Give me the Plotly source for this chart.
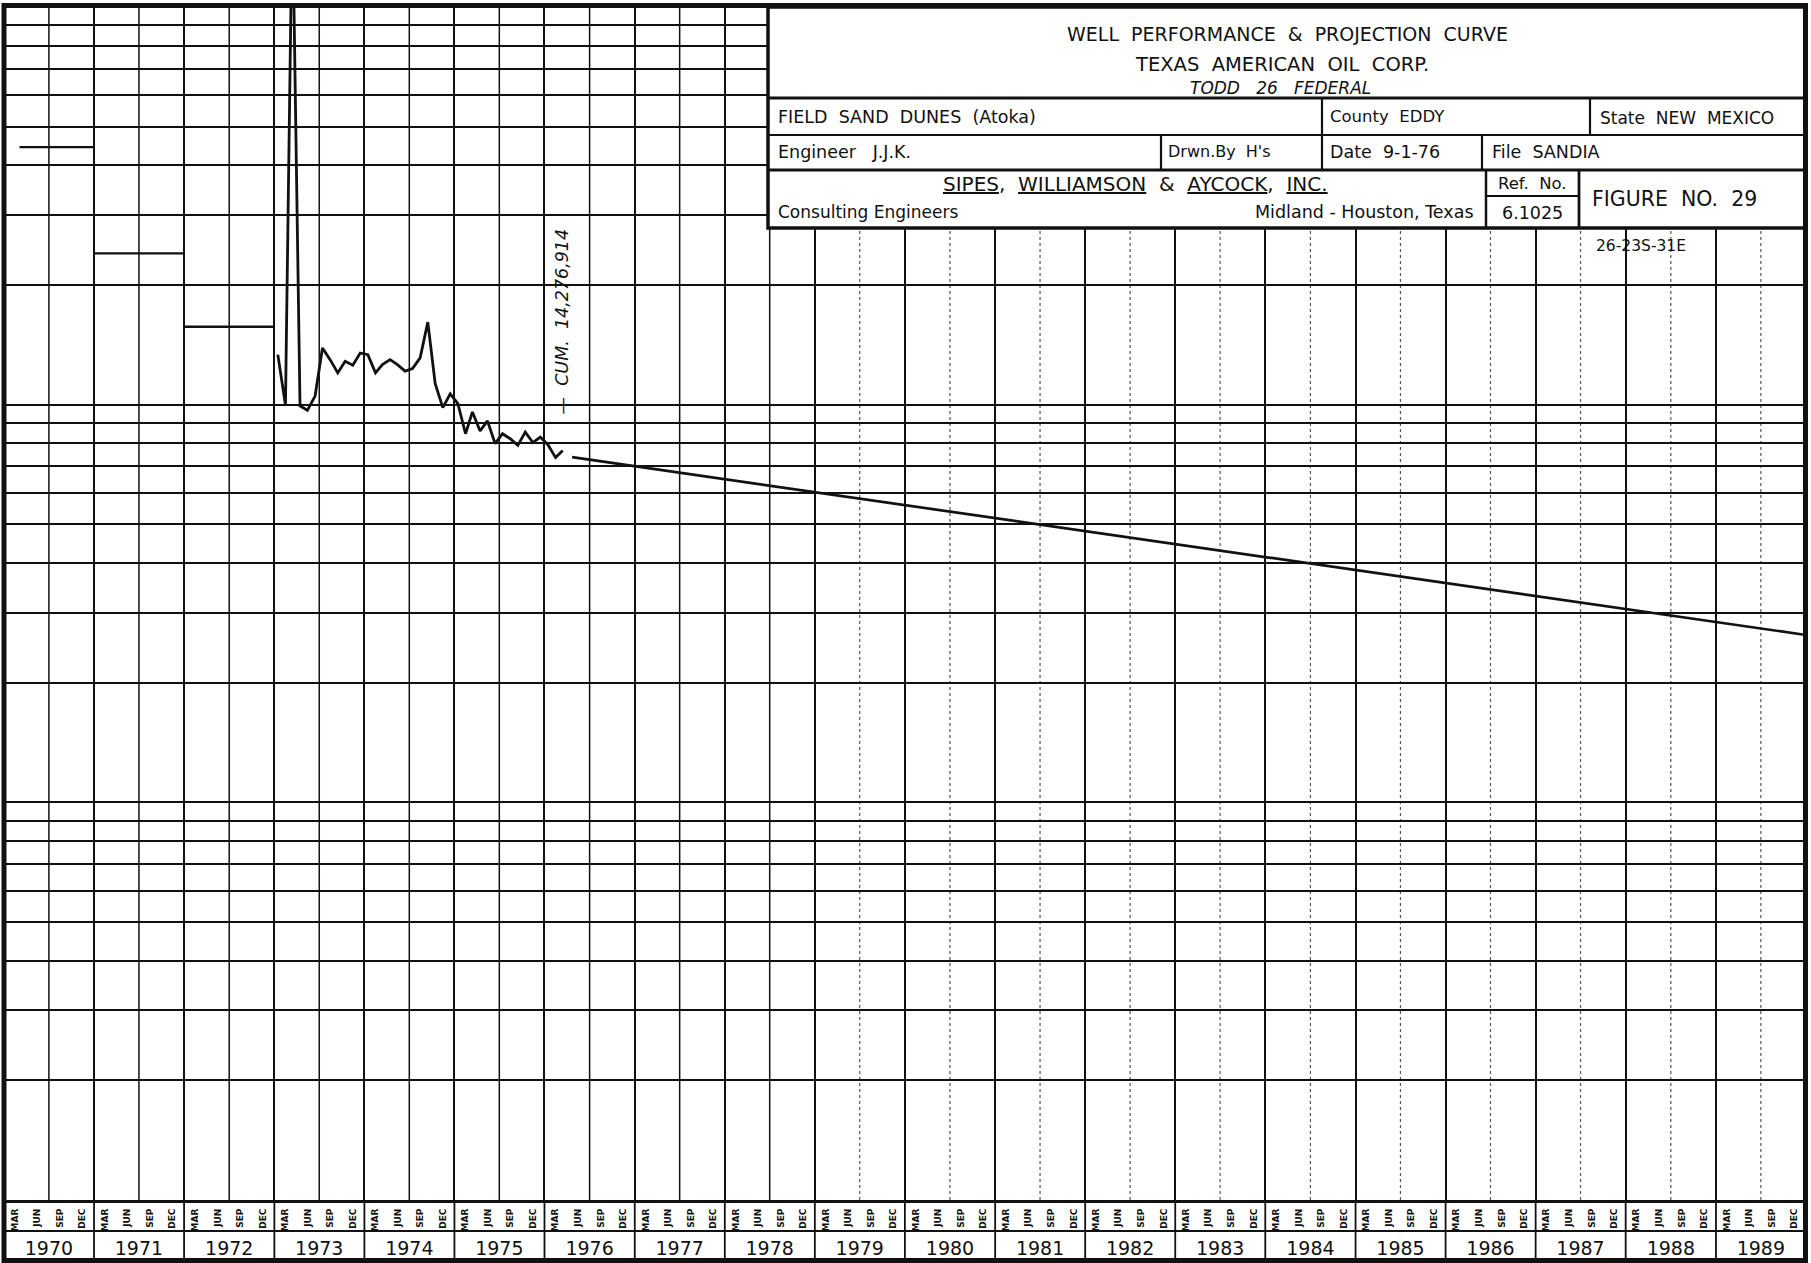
import plotly.graph_objects as go

# ---------------- data ----------------
# annual average rates plotted as horizontal steps (MCF / month)
step_start = ["1970-03-05", "1971-01-01", "1972-01-01"]
step_end = ["1971-01-01", "1972-01-01", "1973-01-01"]
step_rate = [444000, 240000, 157000]

# monthly rates Jan 1973 .. Mar 1976
monthly_rate = [
    133600, 99800, 1850000, 99300, 96800, 105100, 138800, 129800, 120200, 128500, 125700, 134900,
    133600, 120200, 126100, 129800, 126100, 121400, 123300, 131100, 161300, 112900, 98300, 106500,
    100600, 84500, 95900, 85900, 91000, 79800, 84500, 82100, 79000, 85300, 80300, 82900,
    79300, 73600, 76700,
]
monthly_dates = [f"{1973 + i // 12}-{i % 12 + 1:02d}-15" for i in range(len(monthly_rate))]

# projection (straight line on semi-log paper)
proj_dates = ["1976-04-22", "1990-01-01"]
proj_rate = [73800, 26350]

cum_label = "—  CUM.  14,276,914"
cum_date = "1976-03-10"

years = list(range(1970, 1990))
quarter_labels = ["MAR", "JUN", "SEP", "DEC"]
quarter_mid = ["02-14", "05-16", "08-16", "11-15"]

# ---------------- layout geometry ----------------
FIG_W, FIG_H = 1811, 1263
L, R, T, B = 4, 5, 7, 63
W = FIG_W - L - R
H = FIG_H - T - B
FONT = "DejaVu Sans"
INK = "#111111"


def px(x):
    return (x - L) / W


def py(y):
    return 1 - (y - T) / H


fig = go.Figure()

fig.add_trace(go.Scatter(x=monthly_dates, y=monthly_rate, mode="lines",
                         line=dict(color=INK, width=2.8), xaxis="x", yaxis="y",
                         showlegend=False, hoverinfo="skip"))

sx, sy = [], []
for s, e, v in zip(step_start, step_end, step_rate):
    sx += [s, e, None]
    sy += [v, v, None]
fig.add_trace(go.Scatter(x=sx, y=sy, mode="lines", line=dict(color=INK, width=2.3),
                         xaxis="x2", yaxis="y", showlegend=False, hoverinfo="skip"))
fig.add_trace(go.Scatter(x=proj_dates, y=proj_rate, mode="lines", line=dict(color=INK, width=2.7),
                         xaxis="x2", yaxis="y", showlegend=False, hoverinfo="skip"))

xr = ["1970-01-01", "1990-01-01"]
year_starts = [f"{y}-01-01" for y in years] + ["1990-01-01"]
q_vals, q_text = [], []
for y in years:
    for lab, md in zip(quarter_labels, quarter_mid):
        q_vals.append(f"{y}-{md}")
        q_text.append(lab)

fig.update_layout(
    width=FIG_W, height=FIG_H, autosize=False,
    margin=dict(l=L, r=R, t=T, b=B, pad=0),
    paper_bgcolor="white", plot_bgcolor="white",
    showlegend=False,
    xaxis=dict(type="date", range=xr, tickmode="array", tickvals=q_vals, ticktext=q_text,
               tickangle=-90, ticks="", showgrid=False, zeroline=False,
               tickfont=dict(family=FONT, size=9, color=INK, weight="bold"),
               ticklabelstandoff=2,
               showline=True, linecolor=INK, linewidth=3,
               minor=dict(tickmode="array", tickvals=year_starts, showgrid=True,
                          gridcolor=INK, gridwidth=1.7, ticks="")),
    xaxis2=dict(type="date", range=xr, overlaying="x", side="bottom", anchor="y",
                tickmode="array", tickvals=[f"{y}-07-02" for y in years],
                ticktext=[str(y) for y in years], ticks="", showgrid=False,
                showline=False, zeroline=False, ticklabelstandoff=35,
                tickfont=dict(family=FONT, size=19, color=INK)),
    yaxis=dict(type="log", range=[3, 6], dtick="D1", showticklabels=False, ticks="",
               showgrid=True, gridcolor=INK, gridwidth=1.6, zeroline=False, showline=False),
)

shapes = []
# half-year rulings
for y in years:
    solid = y <= 1978
    shapes.append(dict(type="line", xref="x", yref="paper", x0=f"{y}-07-02", x1=f"{y}-07-02",
                       y0=0, y1=1, layer="below",
                       line=dict(color=INK if solid else "#555555", width=1.5 if solid else 1.2,
                                 dash="solid" if solid else "dot")))
# bottom label band
shapes.append(dict(type="line", xref="paper", yref="paper", x0=px(4), x1=px(1806),
                   y0=py(1231), y1=py(1231), line=dict(color=INK, width=2)))
for ys in year_starts[1:-1]:
    shapes.append(dict(type="line", xref="x", yref="paper", x0=ys, x1=ys,
                       y0=py(1200), y1=py(1261), line=dict(color=INK, width=1.8)))
# title block
BX0, BX1, BY0, BY1 = 768, 1806, 7, 228
shapes.append(dict(type="rect", xref="paper", yref="paper", x0=px(BX0), x1=px(BX1),
                   y0=py(BY0), y1=py(BY1), layer="above", fillcolor="white",
                   line=dict(color=INK, width=3.5)))


def hline(y, x0, x1, w=2.5):
    shapes.append(dict(type="line", xref="paper", yref="paper", x0=px(x0), x1=px(x1),
                       y0=py(y), y1=py(y), layer="above", line=dict(color=INK, width=w)))


def vline(x, y0, y1, w=2.2):
    shapes.append(dict(type="line", xref="paper", yref="paper", x0=px(x), x1=px(x),
                       y0=py(y0), y1=py(y1), layer="above", line=dict(color=INK, width=w)))


hline(98, BX0, BX1, 3)
hline(135, BX0, BX1, 2)
hline(170, BX0, BX1, 3)
vline(1322, 98, 135)
vline(1590, 98, 135)
vline(1161, 135, 170)
vline(1322, 135, 170)
vline(1482, 135, 170)
vline(1486, 170, 228, 2.5)
vline(1579, 170, 228, 2.8)
hline(196, 1486, 1579, 2)
# outer frame on top
shapes.append(dict(type="rect", xref="paper", yref="paper", x0=px(4), x1=px(1805.5),
                   y0=py(5.5), y1=py(1260.5), layer="above",
                   line=dict(color=INK, width=5), fillcolor="rgba(0,0,0,0)"))

fig.update_layout(shapes=shapes)

ann = []


def text(x, y, s, size=15, anchor="left", italic=False):
    if italic:
        s = f"<i>{s}</i>"
    ann.append(dict(xref="paper", yref="paper", x=px(x), y=py(y), text=s, showarrow=False,
                    xanchor=anchor, yanchor="middle",
                    font=dict(family=FONT, size=size, color=INK)))


text(1287, 34, "WELL  PERFORMANCE  &  PROJECTION  CURVE", 19, "center")
text(1282, 64.5, "TEXAS  AMERICAN  OIL  CORP.", 19.5, "center")
text(1280, 88, "TODD   26   FEDERAL", 17, "center", italic=True)
text(776, 117, "FIELD  SAND  DUNES  (Atoka)", 17.5)
text(1328, 117, "County  EDDY", 16.5)
text(1598, 118, "State  NEW  MEXICO", 17)
text(776, 152, "Engineer   J.J.K.", 17.5)
text(1166, 152, "Drwn.By  H's", 16)
text(1328, 152, "Date  9-1-76", 17.5)
text(1490, 152, "File  SANDIA", 17.5)
text(1135, 184, "<u>SIPES</u>,  <u>WILLIAMSON</u>  &  <u>AYCOCK</u>,  <u>INC.</u>", 20, "center")
text(776, 212, "Consulting Engineers", 17)
text(1476, 212, "Midland - Houston, Texas", 17.5, "right")
text(1532, 184, "Ref.  No.", 16.5, "center")
text(1532, 213, "6.1025", 17.5, "center")
text(1674, 199, "FIGURE  NO.  29", 20.5, "center")
text(1641, 246, "26-23S-31E", 15.5, "center")

ann.append(dict(xref="x", yref="paper", x=cum_date, y=py(322), text=f"<i>{cum_label}</i>",
                showarrow=False, textangle=-90, xanchor="center", yanchor="middle",
                font=dict(family=FONT, size=17.5, color=INK)))

fig.update_layout(annotations=ann)

fig.write_html("out.html", config={"displayModeBar": False},
               post_script="document.body.style.margin='0';document.body.style.overflow='hidden';")
